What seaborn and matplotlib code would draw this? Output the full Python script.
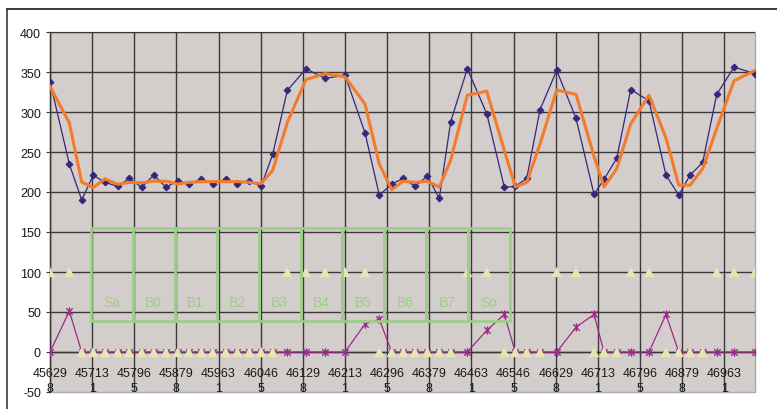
import numpy as np
import pandas as pd
import matplotlib
matplotlib.use("Agg")
import matplotlib.pyplot as plt
from matplotlib.path import Path
from matplotlib.lines import Line2D
from matplotlib.patches import Rectangle
import seaborn as sns

# Sample positions along the scan axis (the first sample lies just before the axis start)
x_pos = [456232,
         456298, 456680, 456925, 457154, 457386, 457637, 457860, 458111, 458349, 458592,
         458823, 459047, 459290, 459515, 459773, 460002, 460239, 460471, 460702, 460991,
         461360, 461736, 462132, 462527, 462810, 463055, 463285, 463516, 463759, 463996,
         464222, 464550, 464934, 465282, 465499, 465725, 465988, 466318, 466700, 467056,
         467253, 467505, 467781, 468143, 468479, 468731, 468954, 469205, 469482, 469824,
         470239]

# Measured signal
signal = [326,
          338, 235, 190, 221, 212, 207, 217, 206, 221, 206,
          214, 210, 216, 210, 216, 210, 214, 207, 247, 327,
          354, 342, 346, 274, 196, 210, 217, 207, 220, 192,
          288, 354, 298, 206, 207, 217, 303, 352, 292, 197,
          216, 242, 328, 314, 221, 196, 221, 237, 322, 356,
          348]

# On/off state flag
state = [100,
         100, 100, 0, 0, 0, 0, 0, 0, 0, 0,
         0, 0, 0, 0, 0, 0, 0, 0, 0, 100,
         100, 100, 100, 100, 0, 0, 0, 0, 0, 0,
         0, 100, 100, 0, 0, 0, 0, 100, 100, 0,
         0, 0, 100, 100, 0, 0, 0, 0, 100, 100,
         100]

# Event amplitude
event = [0,
         0, 51, 0, 0, 0, 0, 0, 0, 0, 0,
         0, 0, 0, 0, 0, 0, 0, 0, 0, 0,
         0, 0, 0, 35, 41, 0, 0, 0, 0, 0,
         0, 0, 27, 47, 0, 0, 0, 0, 31, 47,
         0, 0, 0, 0, 47, 0, 0, 0, 0, 0,
         0]

# Axis tick labels
x_tick_labels = ["456298", "457131", "457965", "458798", "459631", "460465",
                 "461298", "462131", "462965", "463798", "464631", "465465",
                 "466298", "467131", "467965", "468798", "469631"]
y_ticks = [-50, 0, 50, 100, 150, 200, 250, 300, 350, 400]

# Segment boxes
box_labels = ["Sa", "B0", "B1", "B2", "B3", "B4", "B5", "B6", "B7", "So"]
box_start = 457109
box_width = 828.6
box_low, box_high = 39, 155
box_text_y = 62

plt.rcParams["font.family"] = ["Liberation Sans", "DejaVu Sans"]
plt.rcParams["axes.unicode_minus"] = False

NAVY = "#33287C"
ORANGE = "#F47A2C"
PALE = "#E3E8B0"
PLUM = "#9C2A8C"
GREEN = "#9CCF87"
GRID = "#3C3838"

df = pd.DataFrame({"x": x_pos, "signal": signal, "state": state, "event": event})
df["trend"] = df["signal"].rolling(2).mean()

fig = plt.figure(figsize=(7.77, 4.10), dpi=100)
ax = fig.add_axes([50 / 777, 17 / 410, 705 / 777, 360 / 410])
ax.set_facecolor("#D3CDCB")
ax.patch.set_edgecolor("#A9A9A9")
ax.patch.set_linewidth(1.0)

# asterisk marker: X with a vertical bar
star = Path([(-1, -1), (1, 1), (-1, 1), (1, -1), (0, -1.3), (0, 1.3)],
            [Path.MOVETO, Path.LINETO, Path.MOVETO, Path.LINETO, Path.MOVETO, Path.LINETO])

sns.lineplot(data=df, x="x", y="signal", ax=ax, color=NAVY, lw=0.9, marker="D",
             markersize=3.4, markeredgecolor=NAVY, markeredgewidth=0.8,
             estimator=None, sort=False, zorder=3)
sns.lineplot(data=df, x="x", y="event", ax=ax, color=PLUM, lw=0.9, marker=star,
             markersize=6, markeredgecolor=PLUM, markeredgewidth=1.0,
             estimator=None, sort=False, zorder=3.2)
sns.scatterplot(data=df, x="x", y="state", ax=ax, marker="^", s=55, color=PALE,
                edgecolor="none", linewidth=0, zorder=3.5)
sns.lineplot(data=df.dropna(), x="x", y="trend", ax=ax, color=ORANGE, lw=2.2,
             estimator=None, sort=False, zorder=4)

for i, lab in enumerate(box_labels):
    left = box_start + i * box_width
    ax.add_patch(Rectangle((left, box_low), box_width, box_high - box_low,
                           fill=False, edgecolor=GREEN, lw=1.9, zorder=5))
    ax.text(left + box_width / 2, box_text_y, lab, color=GREEN, fontsize=10,
            ha="center", va="center", zorder=5)

ax.set_xlim(x_pos[1], x_pos[-1])
ax.set_ylim(y_ticks[0], y_ticks[-1])
ax.set_yticks(y_ticks)
ax.set_yticklabels([str(v) for v in y_ticks])
ax.set_xticks([float(s) for s in x_tick_labels])
ax.set_xticklabels([s[:-1] + "\n" + s[-1] for s in x_tick_labels])
ax.set_xlabel("")
ax.set_ylabel("")

for s in ("top", "right"):
    ax.spines[s].set_visible(False)
ax.spines["bottom"].set_position(("data", 0))
for s in ("left", "bottom"):
    ax.spines[s].set_color(GRID)
    ax.spines[s].set_linewidth(1.0)

ax.set_axisbelow(True)
ax.grid(True, color=GRID, lw=1.0)
ax.yaxis.get_gridlines()[0].set_visible(False)

ax.tick_params(axis="y", direction="out", length=3, width=0.8, color=GRID,
               labelsize=9, labelcolor="#1a1a1a", pad=3.5)
ax.tick_params(axis="x", direction="out", length=3, width=0.8, color=GRID,
               labelsize=9, labelcolor="#1a1a1a", pad=7.5)
for t in ax.get_xticklabels():
    t.set_linespacing(1.35)

# chart frame
fig.add_artist(Line2D([7 / 777, 1.0], [1 - 10 / 410, 1 - 10 / 410],
                      transform=fig.transFigure, color="#3a3a3a", lw=1.4))
fig.add_artist(Line2D([7 / 777, 7 / 777], [0.0, 1 - 10 / 410],
                      transform=fig.transFigure, color="#3a3a3a", lw=1.2))

fig.savefig("out.png", dpi=100)
